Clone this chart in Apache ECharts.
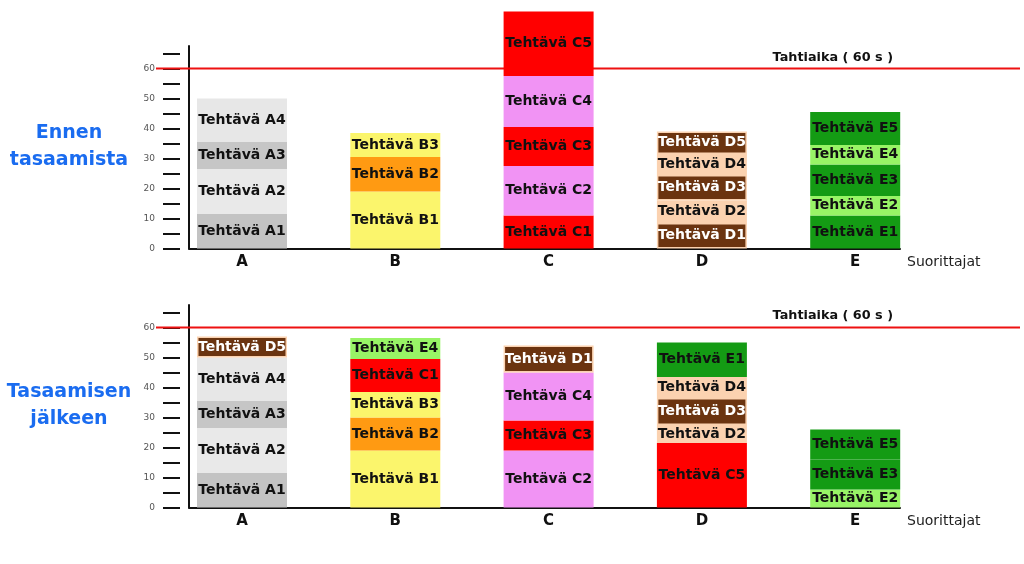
<!DOCTYPE html>
<html><head><meta charset="utf-8">
<script src="https://cdn.jsdelivr.net/npm/echarts@6/dist/echarts.min.js"></script>
<style>html,body{margin:0;padding:0;background:#fff}#c{width:1024px;height:564px}</style>
</head><body><div id="c"></div>
<script>
// ---- data ----
const categories = ['A', 'B', 'C', 'D', 'E'];
const taktTime = 60;
const yMax = 67.5;
const tickMax = 65;
const tickStep = 5;
const beforeTasks = [['A1','A2','A3','A4'], ['B1','B2','B3'], ['C1','C2','C3','C4','C5'], ['D1','D2','D3','D4','D5'], ['E1','E2','E3','E4','E5']];
const beforeTimes = [[11.5, 15, 9, 14.5], [19, 11.5, 8], [11, 16.5, 13, 17, 21.5], [8.5, 7.5, 8.5, 7, 7.5], [11, 6.5, 10.5, 6.5, 11]];
const afterTasks = [['A1','A2','A3','A4','D5'], ['B1','B2','B3','C1','E4'], ['C2','C3','C4','D1'], ['C5','D2','D3','D4','E1'], ['E2','E3','E5']];
const afterTimes = [[11.5, 15, 9, 14.5, 7], [19, 11, 8.5, 11, 7], [19, 10, 16, 9], [21.5, 6, 9, 7, 11.5], [6, 10, 10]];
const taskPrefix = 'Tehtävä ';
const panelTitles = ['Ennen\ntasaamista', 'Tasaamisen\njälkeen'];
const taktLabel = 'Tahtiaika ( 60 s )';
const xName = 'Suorittajat';

// ---- styles ----
const colorOf = {
  A1:'#c3c3c3', A2:'#e9e9e9', A3:'#c6c6c6', A4:'#e7e7e7',
  B1:'#fbf56c', B2:'#ff9a12', B3:'#fbf56c',
  C1:'#ff0000', C2:'#f193f4', C3:'#ff0000', C4:'#f193f4', C5:'#ff0000',
  D1:'#6b3410', D2:'#fbd2b0', D3:'#6b3410', D4:'#fbd2b0', D5:'#6b3410',
  E1:'#149b14', E2:'#98f466', E3:'#149b14', E4:'#98f466', E5:'#149b14'
};
const whiteText = { D1: true, D3: true, D5: true };
const FONT = 'DejaVu Sans';
const PX = 3;             // pixels per unit
const zeros = [248.5, 507.5];
const barCenterA = 242, bandW = 153.3;

const grid = [], xAxis = [], yAxis = [], series = [], title = [];
const panels = [[beforeTasks, beforeTimes], [afterTasks, afterTimes]];

panels.forEach(([tasks, times], p) => {
  const z0 = zeros[p];
  const top = z0 - yMax * PX, h = yMax * PX;
  const b = p * 4;
  grid.push({ left: barCenterA - bandW / 2, width: bandW * categories.length, top: top, height: h });
  grid.push({ left: 189, width: 711, top: top, height: h });
  grid.push({ left: 180, width: 10, top: z0 - tickMax * PX, height: tickMax * PX });
  grid.push({ left: 156, width: 864, top: top, height: h });

  xAxis.push({ type: 'category', gridIndex: b, data: categories,
    axisLine: { show: false }, axisTick: { show: false },
    axisLabel: { margin: 6, fontSize: 15, fontWeight: 'bold', color: '#111', fontFamily: FONT } });
  xAxis.push({ type: 'value', gridIndex: b + 1, min: 0, max: 1,
    axisLine: { show: true, lineStyle: { color: '#111', width: 2 } }, axisTick: { show: false },
    axisLabel: { show: false }, splitLine: { show: false },
    name: xName, nameLocation: 'end', nameGap: 7,
    nameTextStyle: { fontSize: 14, color: '#222', fontFamily: FONT, verticalAlign: 'top', padding: [7, 0, 0, 0] } });
  xAxis.push({ type: 'value', gridIndex: b + 2, min: 0, max: 1, show: false });
  xAxis.push({ type: 'value', gridIndex: b + 3, min: 0, max: 1, show: false });

  yAxis.push({ type: 'value', gridIndex: b, min: 0, max: yMax, show: false });
  yAxis.push({ type: 'value', gridIndex: b + 1, min: 0, max: yMax,
    axisLine: { show: true, lineStyle: { color: '#111', width: 2 } }, axisTick: { show: false },
    axisLabel: { show: false }, splitLine: { show: false } });
  yAxis.push({ type: 'value', gridIndex: b + 2, min: 0, max: tickMax, interval: tickStep,
    axisLine: { show: false },
    axisTick: { show: true, length: 17, lineStyle: { color: '#111', width: 2 } },
    axisLabel: { margin: 25, fontSize: 9, color: '#555', fontFamily: FONT,
      formatter: v => (v % 10 === 0 ? String(v) : '') },
    splitLine: { show: false } });
  yAxis.push({ type: 'value', gridIndex: b + 3, min: 0, max: yMax, show: false });

  const levels = Math.max(...tasks.map(t => t.length));
  for (let L = 0; L < levels; L++) {
    series.push({
      type: 'bar', xAxisIndex: b, yAxisIndex: b, stack: 'panel' + p, barWidth: 90, z: 3, clip: false,
      label: { show: true, position: 'inside', fontSize: 14, fontWeight: 'bold', fontFamily: FONT },
      data: categories.map((c, i) => {
        const id = tasks[i][L];
        if (!id) return '-';
        return {
          value: times[i][L],
          itemStyle: whiteText[id]
            ? { color: colorOf[id], borderColor: '#fbd2b0', borderWidth: 1.5 }
            : { color: colorOf[id] },
          label: { formatter: taskPrefix + id, color: whiteText[id] ? '#ffffff' : '#111111' }
        };
      })
    });
  }
  series.push({ type: 'line', xAxisIndex: b + 3, yAxisIndex: b + 3, z: 1, silent: true,
    symbol: 'none', lineStyle: { color: '#ee1111', width: 2 },
    data: [[0, taktTime], [1, taktTime]] });

  title.push({ text: panelTitles[p], left: 69, top: p === 0 ? 119.5 : 378.5, textAlign: 'center', padding: 0,
    textStyle: { color: '#1a6cf0', fontSize: 19, fontWeight: 'bold', lineHeight: 27, fontFamily: FONT } });
  title.push({ text: taktLabel, right: 131, top: p === 0 ? 51 : 309, padding: 0,
    textStyle: { color: '#111', fontSize: 12.8, fontWeight: 'bold', fontFamily: FONT } });
});

const chart = echarts.init(document.getElementById('c'));
chart.setOption({ animation: false, backgroundColor: '#fff', title, grid, xAxis, yAxis, series });
</script></body></html>
